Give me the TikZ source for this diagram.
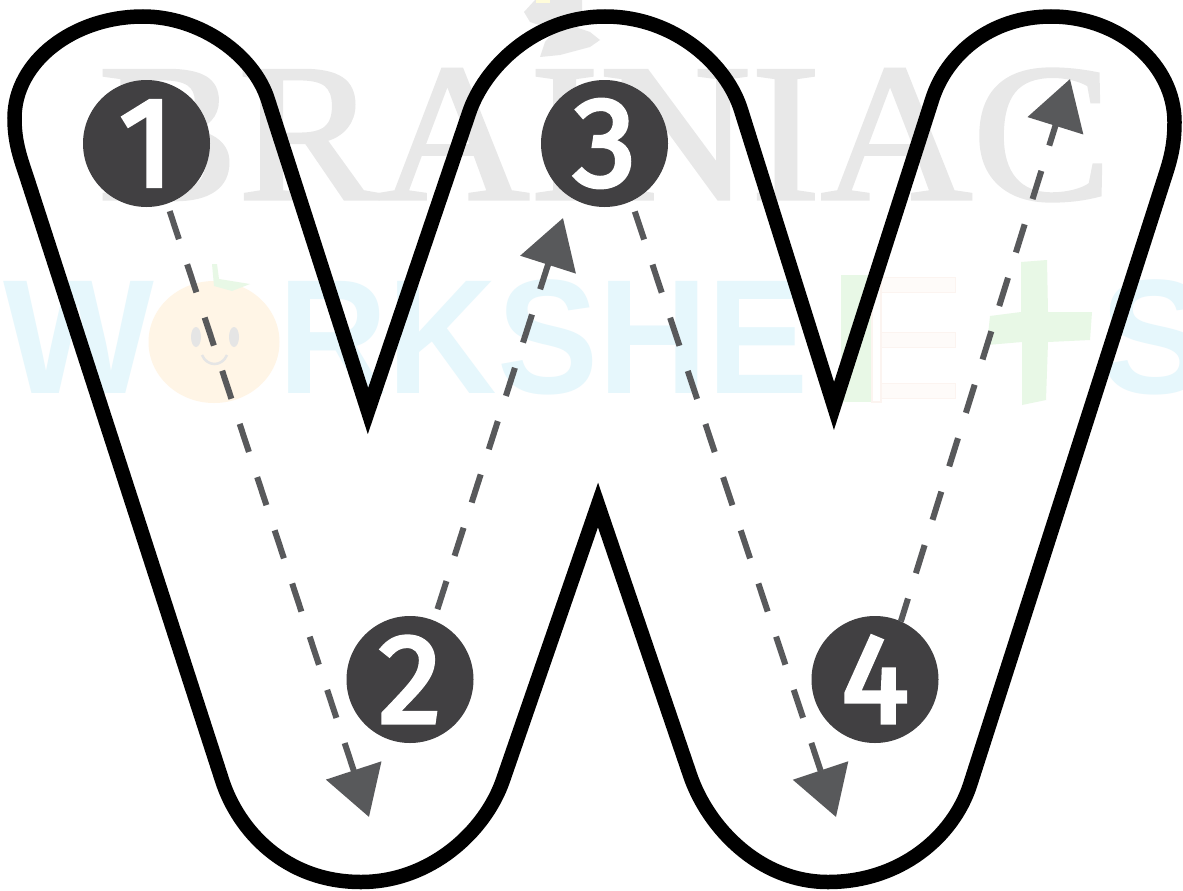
\documentclass[tikz,border=0pt]{standalone}
\usepackage{fontspec}
\usetikzlibrary{arrows.meta}
\setmainfont{Liberation Sans}
\newfontfamily\wmserif[FakeBold=1.5]{Liberation Serif}
\newfontfamily\digitfont[FakeBold=3.2]{Fira Sans}
\definecolor{badgefill}{HTML}{414042}
\definecolor{guidecol}{HTML}{58595B}
\definecolor{wmgrey}{HTML}{E8E8E8}
\definecolor{wmblue}{HTML}{E6F7FC}
\definecolor{wmorange}{HTML}{FFF5E6}
\definecolor{wmgreen}{HTML}{E8F8E6}
\definecolor{wmpage}{HTML}{FCF4F0}
\tikzset{
  x=1pt,y=-1pt,
  outline/.style={draw=black,line width=14.5pt,line join=miter,miter limit=10},
  badge/.style={circle,fill=badgefill,text=white,minimum size=127pt,inner sep=0pt,outer sep=0pt,
    font=\digitfont\fontsize{127}{127}\selectfont},
  guide/.style={draw=guidecol,line width=6pt,dash pattern=on 29.5pt off 26.5pt,
    -{Triangle[length=49pt,width=57pt,fill=guidecol]}},
  wmserifstyle/.style={anchor=west,inner sep=0pt,text=wmgrey,font=\wmserif\fontsize{197}{197}\selectfont},
  wmsans/.style={anchor=west,inner sep=0pt,text=wmblue,font=\bfseries\fontsize{163}{163}\selectfont},
}
\begin{document}
\begin{tikzpicture}
\useasboundingbox (0,0) rectangle (1183,891);
\begin{scope}
\clip (0,0) rectangle (1183,891);
\fill[white] (0,0) rectangle (1183,891);
% watermark
\node[wmserifstyle,xscale=1.065] (wmb) at (98,135) {BRAINIAC};
\fill[wmgrey] (535,0) -- (582,0) -- (582,12) -- (578,28) -- (590,32) -- (600,40) -- (590,47) -- (560,55) -- (540,57) -- (545,42) -- (555,30) -- (530,22) -- (524,12) -- cycle;
\fill[wmorange!70!yellow!40!white] (536,0) rectangle (550,3);
\node[wmsans,xscale=0.98] (wmw) at (3,337) {W};
\node[wmsans,xscale=0.93] (wmr) at (278,337) {RKSHE};
\node[wmsans] (wms) at (1100,337) {S};
\fill[wmorange] (214,342) ellipse [x radius=65.5,y radius=61];
\fill[wmgreen] (212,264) -- (217,264) -- (219,279) -- (250,284) -- (232,291) -- (214,286) -- cycle;
\fill[black!10] (196,337) ellipse [x radius=5,y radius=10] (234,337) ellipse [x radius=5,y radius=10];
\draw[black!10,line width=2.5pt] (202,355) .. controls (207,367) and (222,367) .. (227,355);
\fill[wmgreen] (841,275) rectangle (872,402);
\draw[wmpage,line width=1.5pt] (872,275) rectangle (881,402);
\foreach \yy in {277,332,383}{\filldraw[fill=wmpage!40,draw=wmpage] (881,\yy) rectangle (955,\yy+15);}
\fill[wmgreen] (1021,262) -- (1047,260) -- (1048,312) -- (1092,312) -- (1090,340) -- (1048,342) -- (1046,400) -- (1022,405) -- (1022,342) -- (987,345) -- (990,316) -- (1021,312) -- cycle;
\end{scope}
% letter outline
\draw[outline] (222,780) -- (27,178)
  .. controls (20,157) and (14.5,142) .. (14.5,118)
  .. controls (14.5,62) and (73,16.5) .. (143,16.5)
  .. controls (200,16.5) and (254,55) .. (268,100)
  -- (368,411) -- (469,113)
  .. controls (484,68) and (535,16.5) .. (605,16.5)
  .. controls (675,16.5) and (727,65) .. (741,110)
  -- (834,406) -- (932,100)
  .. controls (946,55) and (990,16.5) .. (1051,16.5)
  .. controls (1120,16.5) and (1174.5,65) .. (1174.5,122)
  .. controls (1174.5,147) and (1170,161) .. (1163.5,181)
  -- (970,785)
  .. controls (953,837) and (900,882) .. (828,882)
  .. controls (760,882) and (708,828) .. (690,775)
  -- (598,505) -- (503,780)
  .. controls (485,832) and (430,882) .. (361,882)
  .. controls (285,882) and (238,830) .. (222,780) -- cycle;
\path (146.5,143.5) coordinate (c1) (410,679.5) coordinate (c2)
      (604.5,143.5) coordinate (c3) (875,679.5) coordinate (c4);
\coordinate (t1) at (369,817);
\coordinate (t2) at (563,218);
\coordinate (t3) at (836,817);
\coordinate (t4) at (1070,79);
\node[badge] (n1) at (c1) {1};
\node[badge] (n2) at (c2) {2};
\node[badge] (n3) at (c3) {3};
\node[badge] (n4) at (c4) {4};
% guide arrows
\draw[guide,shorten <=8pt] (n1.-71) -- (t1);
\draw[guide,shorten <=12pt] (n2.68) -- (t2);
\draw[guide,shorten <=11pt] (n3.-65) -- (t3);
\draw[guide,dash phase=5.5pt] (n4.66.5) -- (t4);
\end{tikzpicture}
\end{document}
